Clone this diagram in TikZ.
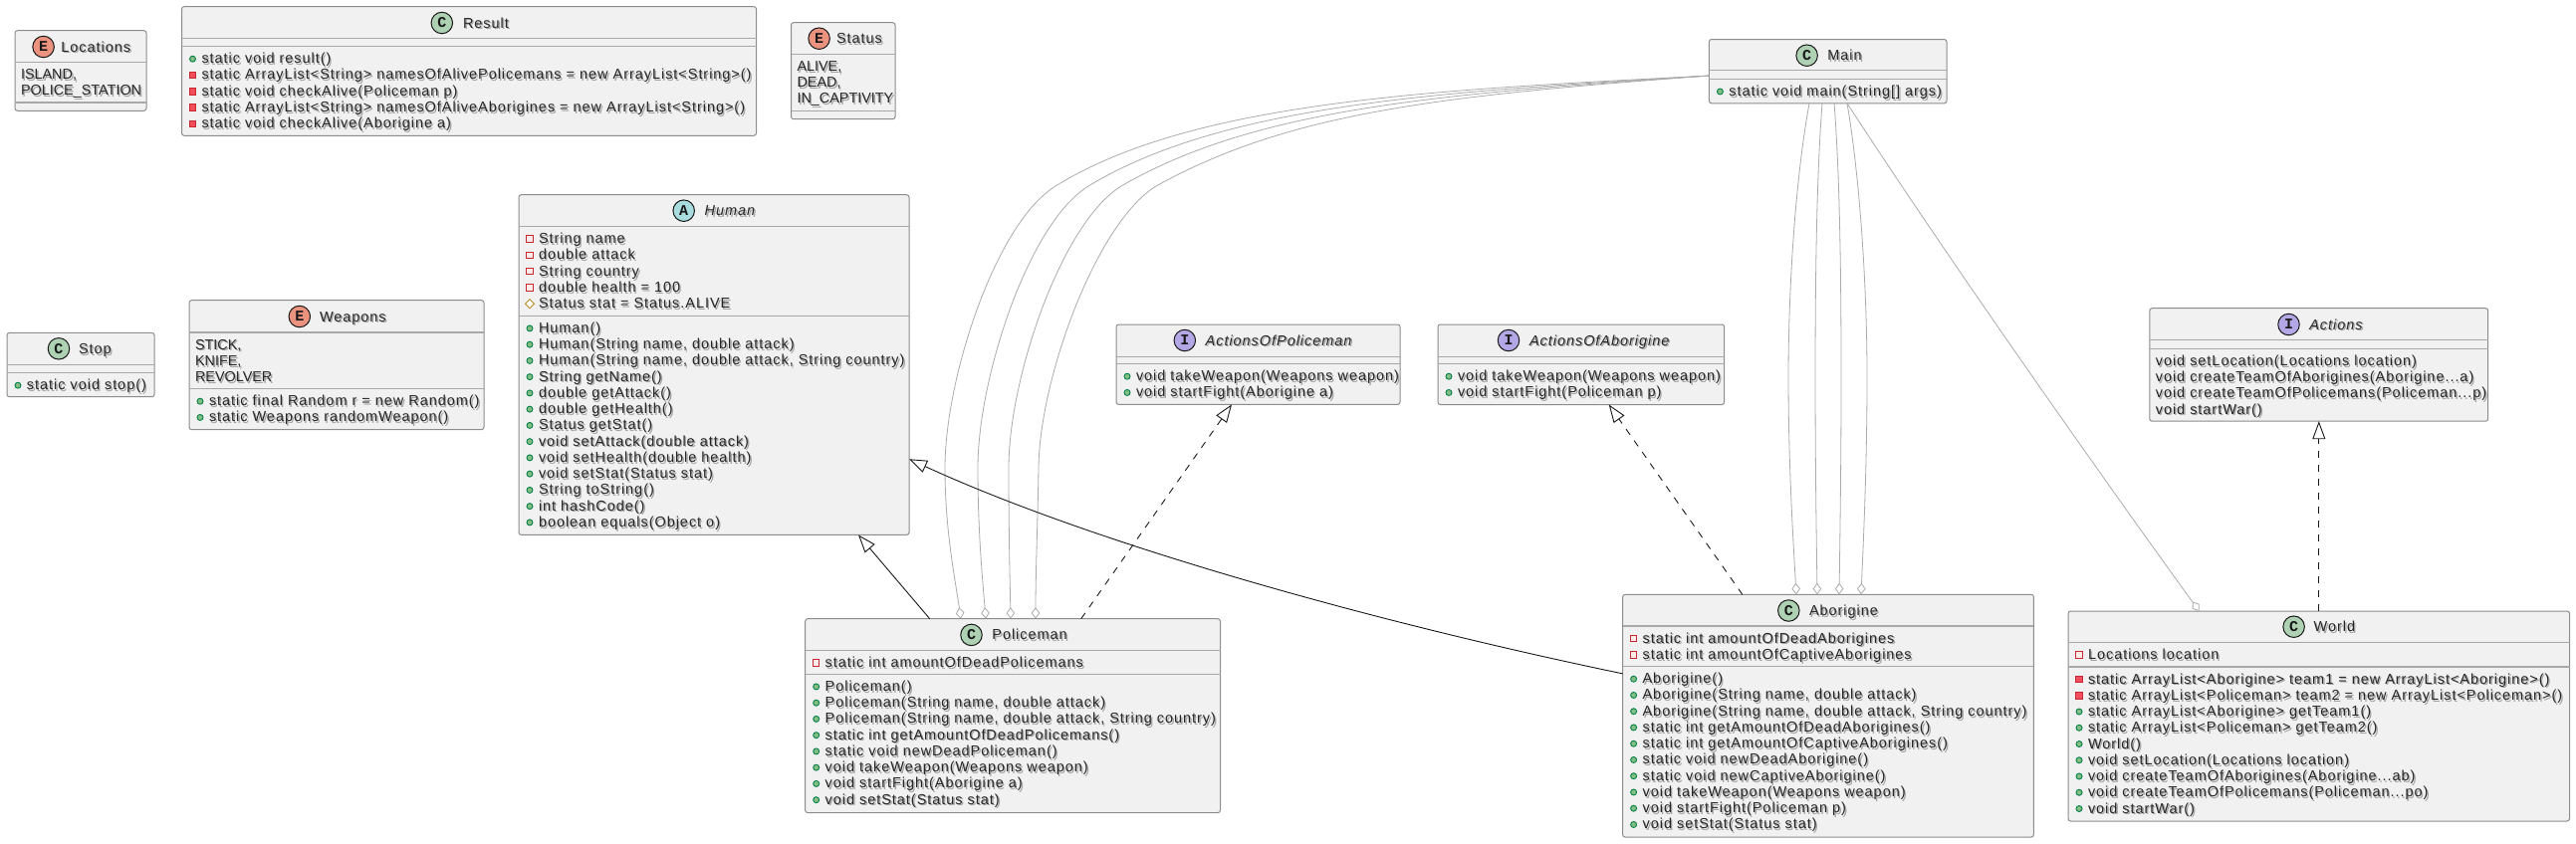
\documentclass[tikz,border=0pt]{standalone}
\usepackage{fontspec}
\usetikzlibrary{arrows.meta,shapes.geometric,calc}
\newfontfamily\uifont[LetterSpace=6.6]{Liberation Sans}
\newfontfamily\capsfont{Liberation Sans}
\newfontfamily\iconfont{Liberation Mono}
\definecolor{boxfill}{HTML}{F1F1F1}
\definecolor{boxline}{HTML}{8C8C8C}
\definecolor{sepline}{HTML}{A8A8A8}
\definecolor{inkline}{HTML}{181818}
\definecolor{aggline}{HTML}{ABABAB}
\definecolor{iconC}{HTML}{ADD1B2}
\definecolor{iconE}{HTML}{EB937F}
\definecolor{iconA}{HTML}{A9DCDF}
\definecolor{iconI}{HTML}{B4A7E5}
\definecolor{pubfill}{HTML}{84BE84}
\definecolor{pubdraw}{HTML}{038048}
\definecolor{privdraw}{HTML}{C82930}
\definecolor{privfill}{HTML}{F24D5C}
\definecolor{protdraw}{HTML}{B38D22}
\newcount\tcnt
\newcommand{\nxt}{\global\advance\tcnt by 1 }
\newcommand{\sh}[1]{\rlap{\kern1.4pt\raisebox{-1.8pt}{\textcolor{black!36}{#1}}}#1}
\tikzset{
 classbox/.style={rectangle,rounded corners=2.5pt,draw=boxline,fill=boxfill,line width=1pt,inner sep=0pt,outer sep=0pt},
 sepstyle/.style={draw=sepline,line width=1.1pt},
 label/.style={anchor=base west,inner sep=0pt,outer sep=0pt,text=black!85,font=\uifont\fontsize{14.5}{16}\selectfont},
 headicon/.style={circle,draw=inkline,line width=1pt,minimum size=21.5pt,inner sep=0pt,text=inkline,font=\iconfont\bfseries\fontsize{15}{15}\selectfont},
 pubicon/.style={circle,draw=pubdraw,fill=pubfill,line width=.9pt,minimum size=6pt,inner sep=0pt},
 privfield/.style={rectangle,draw=privdraw,fill=privfill!12,line width=1pt,minimum size=6.5pt,inner sep=0pt},
 privmeth/.style={rectangle,draw=privdraw,fill=privfill,line width=.8pt,minimum size=6.5pt,inner sep=0pt},
 protfield/.style={diamond,draw=protdraw,fill=white,line width=.9pt,minimum size=9.5pt,inner sep=0pt},
 inherit/.style={draw=inkline,line width=.9pt,-{Triangle[open,fill=white,length=18pt,width=13pt]}},
 realize/.style={inherit,dash pattern=on 7pt off 7pt},
 aggreg/.style={draw=aggline,line width=.8pt,-{Diamond[open,fill=white,length=11.5pt,width=8.6pt]}},
}
\newcommand{\cbox}[5]{\node[classbox,minimum width={(#4-#2)*1pt},minimum height={(#5-#3)*1pt}] (#1) at ({(#2+#4)/2},{(#3+#5)/2}) {};}
\newcommand{\sepl}[2]{\coordinate (sepc) at (0,#2);\draw[sepstyle] (#1.west |- sepc) -- (#1.east |- sepc);}
\newcommand{\chead}[7]{\nxt\node[headicon,fill=#3] (ic\the\tcnt) at (#4,#5) {#2};\nxt\node[label] (hd\the\tcnt) at (#6,#5+5) {\sh{#7}};}
\newcommand{\setrows}[2]{\gdef\rx{#1}\pgfmathsetmacro\tmpy{#2+17}\global\let\ry\tmpy}
\newcommand{\adv}{\pgfmathsetmacro\tmpy{\ry+16.25}\global\let\ry\tmpy}
\newcommand{\plain}[1]{\nxt\node[label] (t\the\tcnt) at (\rx+6,\ry) {\sh{#1}};\adv}
\newcommand{\plaincaps}[1]{\nxt\node[label,font=\capsfont\fontsize{14.4}{16}\selectfont] (t\the\tcnt) at (\rx+6,\ry) {\sh{#1}};\adv}
\newcommand{\rowi}[2]{\nxt\node[#1] (v\the\tcnt) at (\rx+11,\ry-4.5) {};\node[label] (t\the\tcnt) at (\rx+20,\ry) {\sh{#2}};\adv}
\newcommand{\pub}[1]{\rowi{pubicon}{#1}}
\newcommand{\prf}[1]{\rowi{privfield}{#1}}
\newcommand{\prm}[1]{\rowi{privmeth}{#1}}
\newcommand{\pro}[1]{\rowi{protfield}{#1}}
\begin{document}
\begin{tikzpicture}[x=1pt,y=-1pt]
\useasboundingbox (0,0) rectangle (2587,847);
% Locations
\cbox{locations}{15}{30.7}{147}{111.3}
\sepl{locations}{62.7}\sepl{locations}{103}
\chead{locations}{E}{iconE}{43.6}{47}{61.4}{Locations}
\setrows{15}{62.7}\plaincaps{ISLAND,}\plaincaps{POLICE\_STATION}
% Result
\cbox{result}{182.5}{6.7}{759.5}{136.3}
\sepl{result}{38.7}\sepl{result}{46.7}
\chead{result}{C}{iconC}{443.8}{23}{465}{Result}
\setrows{182.5}{46.7}
\pub{static void result()}
\prm{static ArrayList<String> namesOfAlivePolicemans = new ArrayList<String>()}
\prm{static void checkAlive(Policeman p)}
\prm{static ArrayList<String> namesOfAliveAborigines = new ArrayList<String>()}
\prm{static void checkAlive(Aborigine a)}
% Status
\cbox{status}{794.5}{22.7}{899}{119.7}
\sepl{status}{54.3}\sepl{status}{111.7}
\chead{status}{E}{iconE}{822.6}{38.7}{840}{Status}
\setrows{794.5}{54.3}\plaincaps{ALIVE,}\plaincaps{DEAD,}\plaincaps{IN\_CAPTIVITY}
% Stop
\cbox{stop}{7}{334.3}{155}{398.7}
\sepl{stop}{366.7}\sepl{stop}{374.7}
\chead{stop}{C}{iconC}{59}{350.3}{79}{Stop}
\setrows{7}{374.7}\pub{static void stop()}
% Weapons
\cbox{weapons}{190}{301.7}{486}{431.7}
\sepl{weapons}{334}\sepl{weapons}{390.7}
\chead{weapons}{E}{iconE}{300.8}{318}{321}{Weapons}
\setrows{190}{334}\plaincaps{STICK,}\plaincaps{KNIFE,}\plaincaps{REVOLVER}
\setrows{190}{390.7}\pub{static final Random r = new Random()}\pub{static Weapons randomWeapon()}
% Human
\cbox{human}{521}{195.7}{913}{537.4}
\sepl{human}{227.7}\sepl{human}{317.4}
\chead{human}{A}{iconA}{686.7}{211.7}{707.7}{{\itshape Human}}
\setrows{521}{227.7}
\prf{String name}\prf{double attack}\prf{String country}\prf{double health = 100}\pro{Status stat = Status.ALIVE}
\setrows{521}{317.4}
\pub{Human()}
\pub{Human(String name, double attack)}
\pub{Human(String name, double attack, String country)}
\pub{String getName()}
\pub{double getAttack()}
\pub{double getHealth()}
\pub{Status getStat()}
\pub{void setAttack(double attack)}
\pub{void setHealth(double health)}
\pub{void setStat(Status stat)}
\pub{String toString()}
\pub{int hashCode()}
\pub{boolean equals(Object o)}
% ActionsOfPoliceman
\cbox{aop}{1121}{326}{1406}{406.4}
\sepl{aop}{358.2}\sepl{aop}{365.7}
\chead{aop}{I}{iconI}{1189.8}{342}{1210.7}{{\itshape ActionsOfPoliceman}}
\setrows{1121}{365.7}
\pub{void takeWeapon(Weapons weapon)}
\pub{void startFight(Aborigine a)}
% ActionsOfAborigine
\cbox{aoa}{1444}{326}{1731.7}{406.5}
\sepl{aoa}{358.2}\sepl{aoa}{365.7}
\chead{aoa}{I}{iconI}{1515}{342}{1536}{{\itshape ActionsOfAborigine}}
\setrows{1444}{365.7}
\pub{void takeWeapon(Weapons weapon)}
\pub{void startFight(Policeman p)}
% Main
\cbox{main}{1716.4}{39.5}{1955}{103.8}
\sepl{main}{70.8}\sepl{main}{79.5}
\chead{main}{C}{iconC}{1814.6}{55.7}{1835.4}{Main}
\setrows{1716.4}{79.5}\pub{static void main(String[] args)}
% Actions
\cbox{actions}{2158.8}{309.7}{2498.7}{423.2}
\sepl{actions}{341.6}\sepl{actions}{350.3}
\chead{actions}{I}{iconI}{2298.5}{326}{2319.3}{{\itshape Actions}}
\setrows{2158.8}{350.3}
\plain{void setLocation(Locations location)}
\plain{void createTeamOfAborigines(Aborigine...a)}
\plain{void createTeamOfPolicemans(Policeman...p)}
\plain{void startWar()}
% Policeman
\cbox{policeman}{808.7}{621.7}{1225.5}{816.6}
\sepl{policeman}{653.6}\sepl{policeman}{677.4}
\chead{policeman}{C}{iconC}{975.5}{637.9}{996.4}{Policeman}
\setrows{808.7}{653.6}\prf{static int amountOfDeadPolicemans}
\setrows{808.7}{677.4}
\pub{Policeman()}
\pub{Policeman(String name, double attack)}
\pub{Policeman(String name, double attack, String country)}
\pub{static int getAmountOfDeadPolicemans()}
\pub{static void newDeadPoliceman()}
\pub{void takeWeapon(Weapons weapon)}
\pub{void startFight(Aborigine a)}
\pub{void setStat(Status stat)}
% Aborigine
\cbox{aborigine}{1629.6}{597.3}{2042.4}{841}
\sepl{aborigine}{629}\sepl{aborigine}{669.7}
\chead{aborigine}{C}{iconC}{1796.3}{613.5}{1817}{Aborigine}
\setrows{1629.6}{629}\prf{static int amountOfDeadAborigines}\prf{static int amountOfCaptiveAborigines}
\setrows{1629.6}{669.7}
\pub{Aborigine()}
\pub{Aborigine(String name, double attack)}
\pub{Aborigine(String name, double attack, String country)}
\pub{static int getAmountOfDeadAborigines()}
\pub{static int getAmountOfCaptiveAborigines()}
\pub{static void newDeadAborigine()}
\pub{static void newCaptiveAborigine()}
\pub{void takeWeapon(Weapons weapon)}
\pub{void startFight(Policeman p)}
\pub{void setStat(Status stat)}
% World
\cbox{world}{2077}{614}{2580.5}{825}
\sepl{world}{645.4}\sepl{world}{670}
\chead{world}{C}{iconC}{2303.6}{629.7}{2323.7}{World}
\setrows{2077}{645.4}\prf{Locations location}
\setrows{2077}{670}
\prm{static ArrayList<Aborigine> team1 = new ArrayList<Aborigine>()}
\prm{static ArrayList<Policeman> team2 = new ArrayList<Policeman>()}
\pub{static ArrayList<Aborigine> getTeam1()}
\pub{static ArrayList<Policeman> getTeam2()}
\pub{World()}
\pub{void setLocation(Locations location)}
\pub{void createTeamOfAborigines(Aborigine...ab)}
\pub{void createTeamOfPolicemans(Policeman...po)}
\pub{void startWar()}
% connector ends
\coordinate (mw) at ($(main.west)+(0,4.4)$);
\coordinate (pa) at ($(policeman.north west)+(156.3,0)$);
\coordinate (pb) at ($(policeman.north west)+(181.3,0)$);
\coordinate (pc) at ($(policeman.north west)+(206.3,0)$);
\coordinate (pd) at ($(policeman.north west)+(231.3,0)$);
\coordinate (ma) at ($(main.south west)+(100.6,0)$);
\coordinate (mb) at ($(main.south west)+(113.6,0)$);
\coordinate (mc) at ($(main.south west)+(125.6,0)$);
\coordinate (md) at ($(main.south west)+(138.6,0)$);
\coordinate (aa) at ($(aborigine.north west)+(174.4,0)$);
\coordinate (ab) at ($(aborigine.north west)+(195.4,0)$);
\coordinate (ac) at ($(aborigine.north west)+(217.4,0)$);
\coordinate (ad) at ($(aborigine.north west)+(239.4,0)$);
\coordinate (wd) at ($(world.north west)+(131.5,0)$);
\coordinate (ph) at ($(policeman.north west)+(125,0)$);
\coordinate (hb) at ($(human.south west)+(341,0)$);
\coordinate (ae) at ($(aborigine.west)+(0,-42.3)$);
\coordinate (he) at ($(human.east)+(0,94.7)$);
\coordinate (pr) at ($(policeman.north west)+(277,0)$);
\coordinate (ar) at ($(aborigine.north west)+(120.2,0)$);
\coordinate (wr) at ($(world.north west)+(251.8,0)$);
\coordinate (aopb) at ($(aop.south west)+(116,0)$);
\coordinate (aoab) at ($(aoa.south west)+(171.7,0)$);
\coordinate (actb) at ($(actions.south west)+(170,0)$);
% aggregations Main - Policeman
\draw[aggreg] (mw) .. controls (1450,90) and (1200,100) .. (1060,187) .. controls (1000,224) and (949,380) .. (949,470) .. controls (949,530) and (958,575) .. (pa);
\draw[aggreg] (mw) .. controls (1450,92) and (1230,104) .. (1093,187) .. controls (1033,224) and (982,380) .. (982,470) .. controls (982,530) and (986,575) .. (pb);
\draw[aggreg] (mw) .. controls (1450,94) and (1262,108) .. (1126,187) .. controls (1066,224) and (1013,380) .. (1013,470) .. controls (1013,530) and (1014,575) .. (pc);
\draw[aggreg] (mw) .. controls (1450,96) and (1296,112) .. (1161,187) .. controls (1101,224) and (1044,380) .. (1043,470) .. controls (1042,530) and (1040,575) .. (pd);
% aggregations Main - Aborigine
\draw[aggreg] (ma) .. controls (1803,180) and (1796,290) .. (1796,378) .. controls (1796,460) and (1800,530) .. (aa);
\draw[aggreg] (mb) .. controls (1824,180) and (1823,290) .. (1823,378) .. controls (1823,460) and (1824,530) .. (ab);
\draw[aggreg] (mc) .. controls (1848,180) and (1849,290) .. (1849,378) .. controls (1849,460) and (1848,530) .. (ac);
\draw[aggreg] (md) .. controls (1868,180) and (1875,290) .. (1875,378) .. controls (1875,460) and (1872,530) .. (ad);
% Main - World
\draw[aggreg] (md) .. controls (1950,250) and (2090,450) .. (wd);
% inheritance
\draw[inherit] (ph) -- (hb);
\draw[inherit] (ae) .. controls (1380,625) and (1100,547) .. (he);
% realizations
\draw[realize] (pr) -- (aopb);
\draw[realize] (ar) -- (aoab);
\draw[realize] (wr) -- (actb);
\end{tikzpicture}
\end{document}
